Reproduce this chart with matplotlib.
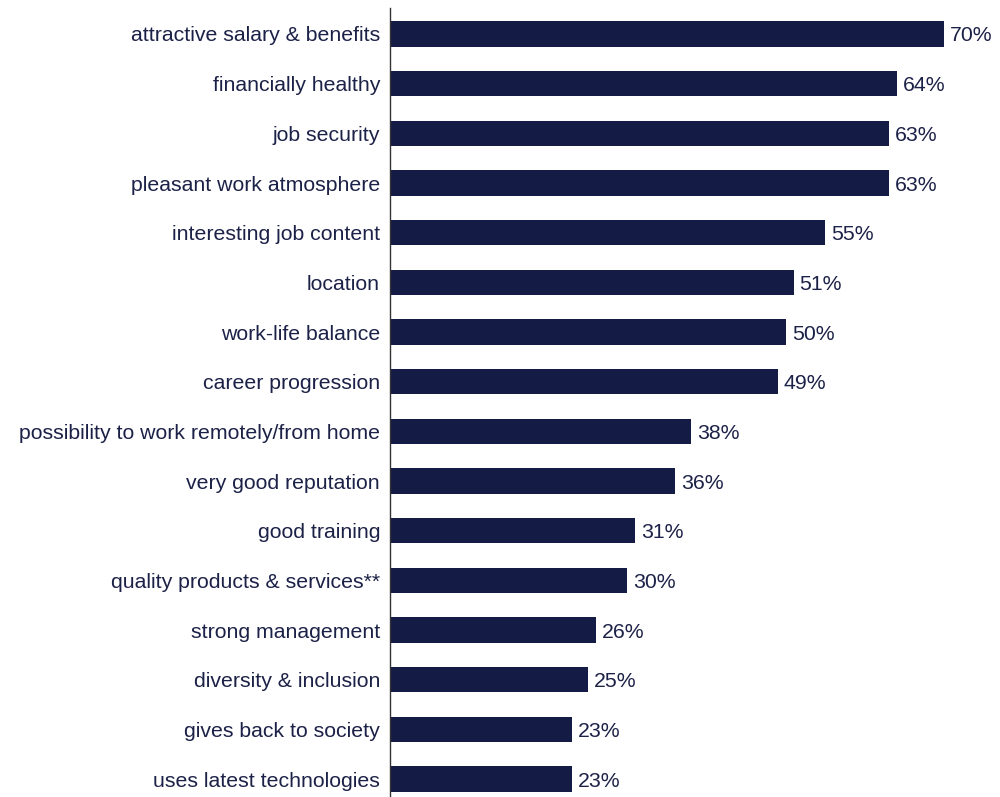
import matplotlib.pyplot as plt

categories = [
    "attractive salary & benefits",
    "financially healthy",
    "job security",
    "pleasant work atmosphere",
    "interesting job content",
    "location",
    "work-life balance",
    "career progression",
    "possibility to work remotely/from home",
    "very good reputation",
    "good training",
    "quality products & services**",
    "strong management",
    "diversity & inclusion",
    "gives back to society",
    "uses latest technologies",
]
values = [70, 64, 63, 63, 55, 51, 50, 49, 38, 36, 31, 30, 26, 25, 23, 23]

bar_color = "#141b45"
text_color = "#1c2147"

plt.rcParams["font.family"] = ["Liberation Sans", "DejaVu Sans"]

fig = plt.figure(figsize=(10, 7.97), dpi=100)
ax = fig.add_axes([0.39, 0.0, 0.61, (797 - 8) / 797])

ypos = list(range(len(categories)))
ax.barh(ypos, values, height=0.51, color=bar_color)

for y, v in zip(ypos, values):
    ax.text(v + 0.75, y, f"{v}%", va="center_baseline", ha="left",
            fontsize=15.3, color=text_color)

ax.set_yticks(ypos)
ax.set_yticklabels(categories, fontsize=15.3, color=text_color, va="center_baseline")
ax.tick_params(axis="y", length=0, pad=7.2)
ax.set_xticks([])
ax.set_xlim(0, 77.07)
ax.set_ylim(15.36, -0.523)

for side in ["top", "right", "bottom"]:
    ax.spines[side].set_visible(False)
ax.spines["left"].set_color("#333333")
ax.spines["left"].set_linewidth(1)

fig.savefig("out.png", dpi=100)
